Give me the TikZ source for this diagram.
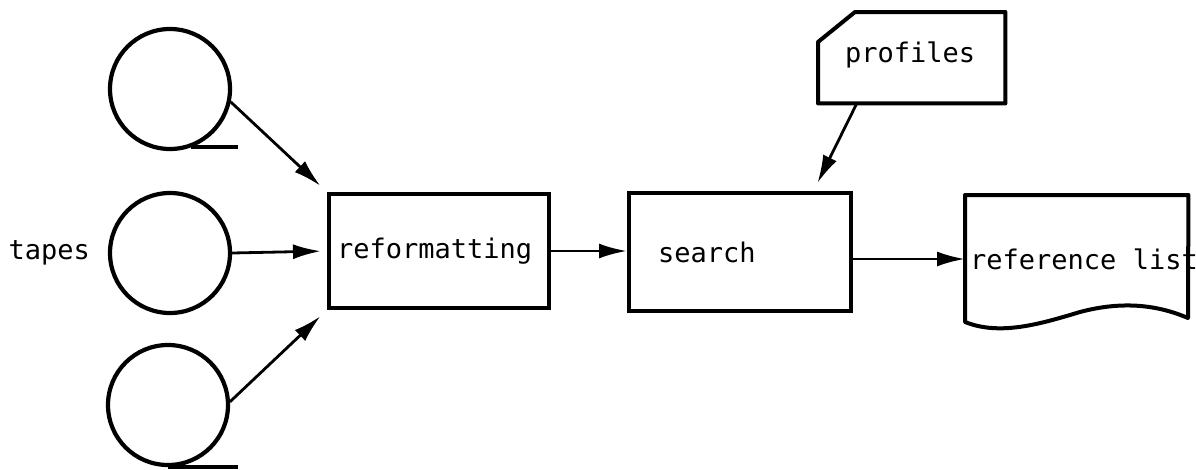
\documentclass[tikz,border=0pt]{standalone}
\usepackage{fontspec}
\setmonofont{DejaVu Sans Mono}
\usetikzlibrary{arrows.meta}
\begin{document}
\begin{tikzpicture}[x=1pt,y=-1pt,
  every node/.style={font=\ttfamily\fontsize{27}{31}\selectfont},
  tape/.style={draw,circle,line width=4.2pt,minimum size=120pt,inner sep=0pt},
  tail/.style={line width=4.2pt},
  procbox/.style={draw,rectangle,line width=4pt,align=left,minimum height=114pt},
  arr/.style={line width=2.8pt,-{Latex[length=28pt,width=15pt]}},
  plain/.style={line width=4pt,line join=round}
]
\useasboundingbox (0,0) rectangle (1196,469);

% tape reels
\node[tape] (tape1) at (170,89) {};
\node[tape] (tape2) at (170,253) {};
\node[tape] (tape3) at (168,405) {};
\draw[tail] (tape1.-70) -- ++(47,0);
\draw[tail] (tape3.-90) -- ++(70,0);
\node[anchor=west] (tapes) at (5,253) {tapes};

% processing steps
\node[procbox,inner xsep=8pt,text width=204pt] (reformat) at (439,251) {reformatting};
\node[procbox,inner xsep=29pt,text width=164pt,minimum height=118pt] (search) at (740,252) {search};

% output document
\node[anchor=north west,minimum width=223pt,minimum height=130pt,inner sep=0pt] (ref) at (965,195) {};
\node[anchor=west,inner sep=0pt] (reftext) at (970,259) {reference list};
\draw[plain] (ref.north west) -- (ref.north east) -- (1188,318)
  .. controls (1160,306) and (1125,300) .. (1080,312)
  .. controls (1040,324) and (1000,336) .. (965,322) -- cycle;

% profiles card
\node[anchor=north west,minimum width=187pt,minimum height=91pt,inner sep=0pt] (prof) at (818,12) {};
\node[anchor=west,inner sep=0pt] (proftext) at (845,55) {profiles};
\draw[plain] (818,42) -- (855,12) -- (prof.north east) -- (prof.south east)
  -- (prof.south west) -- cycle;

% connectors
\draw[arr,shorten >=9pt] (tape1.-12) -- (reformat.north west);
\draw[arr,shorten >=6pt] (tape2.east) -- (reformat.west);
\draw[arr,shorten >=9pt] (tape3.3) -- (reformat.south west);
\draw[arr] (reformat.east) -- (reformat.east -| search.west);
\draw[arr] (search.east |- reftext) -- (ref.west |- reftext);
\draw[arr,shorten >=10pt] (857,103) -- (813,192);
\end{tikzpicture}
\end{document}
